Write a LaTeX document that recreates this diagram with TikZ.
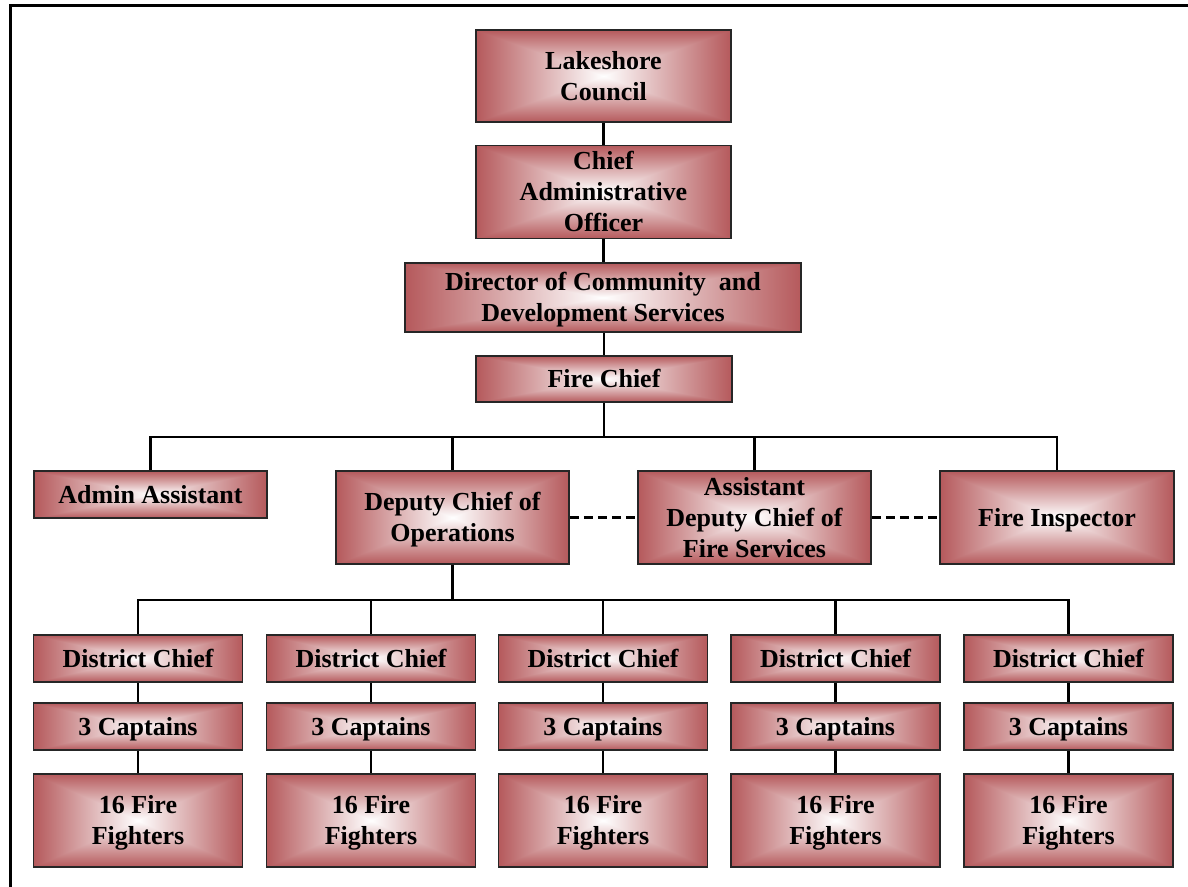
\documentclass[tikz,border=0pt]{standalone}
\usepackage{fontspec}
\setmainfont{Liberation Serif}
\pgfdeclarefunctionalshading{boxgrad}{\pgfpoint{-50bp}{-50bp}}{\pgfpoint{50bp}{50bp}}{}{
 abs exch abs 2 copy lt {exch} if pop 25 div dup 1 gt {pop 1} if
 dup 0.29 mul 1 exch sub exch dup 0.65 mul 1 exch sub exch 0.64 mul 1 exch sub
}
\newcommand{\boxtxt}[1]{\raisebox{-2.5pt}[\height][\depth]{\begin{tabular}{@{}c@{}}#1\end{tabular}}}
\tikzset{
  orgbox/.style={draw=black!85, line width=1.8pt, shading=boxgrad, inner sep=0pt,
    align=center, font=\bfseries\fontsize{26}{31}\selectfont, text=black},
  wire/.style={line width=2.2pt, draw=black},
  dashwire/.style={line width=2.6pt, draw=black, dash pattern=on 9pt off 5pt},
  frame/.style={line width=3pt, draw=black}
}
\begin{document}
\begin{tikzpicture}[x=1pt,y=-1pt]
\useasboundingbox (0,0) rectangle (1188,886);
\clip (0,0) rectangle (1188,886);
\draw[frame] (10,900) -- (10,5.5) -- (1200,5.5);

\coordinate (b1) at (604,437);
\coordinate (b2) at (452.5,600);

\node[orgbox, minimum width=255pt, minimum height=92pt] (lc) at (603.5,76) {\boxtxt{Lakeshore\\Council}};
\node[orgbox, minimum width=255pt, minimum height=92pt] (cao) at (603.5,192) {\boxtxt{Chief\\Administrative\\Officer}};
\node[orgbox, minimum width=396pt, minimum height=69pt] (dir) at (603,297.5) {\boxtxt{Director of Community\ \ and\\Development Services}};
\node[orgbox, minimum width=256pt, minimum height=46pt] (fc) at (604,379) {\boxtxt{Fire Chief}};

\node[orgbox, minimum width=233pt, minimum height=47pt] (aa) at (150.5,494.5) {\boxtxt{Admin Assistant}};
\node[orgbox, minimum width=233pt, minimum height=93pt] (dco) at (452.5,517.5) {\boxtxt{Deputy Chief of\\Operations}};
\node[orgbox, minimum width=233pt, minimum height=93pt] (adc) at (754.5,517.5) {\boxtxt{Assistant\\Deputy Chief of\\Fire Services}};
\node[orgbox, minimum width=234pt, minimum height=93pt] (fi) at (1057,517.5) {\boxtxt{Fire Inspector}};

\foreach \i/\x in {1/138,2/371,3/603,4/835.5,5/1068.5}{
  \node[orgbox, minimum width=209pt, minimum height=47pt] (d\i) at (\x,658.5) {\boxtxt{District Chief}};
  \node[orgbox, minimum width=209pt, minimum height=47pt] (c\i) at (\x,726.5) {\boxtxt{3 Captains}};
  \node[orgbox, minimum width=209pt, minimum height=93pt] (f\i) at (\x,820.5) {\boxtxt{16 Fire\\Fighters}};
  \draw[wire] (d\i.south) -- (c\i.north);
  \draw[wire] (c\i.south) -- (f\i.north);
}

\draw[wire] (lc.south) -- (cao.north);
\draw[wire] (cao.south) -- (cao.south |- dir.north);
\draw[wire] (dir.south -| fc.north) -- (fc.north);
\draw[wire] (fc.south) -- (fc.south |- b1);
\draw[wire] (aa.north) |- (fi.north |- b1) -- (fi.north);
\draw[wire] (dco.north) -- (dco.north |- b1);
\draw[wire] (adc.north) -- (adc.north |- b1);

\draw[wire] (dco.south) -- (b2);
\draw[wire] (d1.north) |- (d5.north |- b2) -- (d5.north);
\draw[wire] (d2.north) -- (d2.north |- b2);
\draw[wire] (d3.north) -- (d3.north |- b2);
\draw[wire] (d4.north) -- (d4.north |- b2);

\draw[dashwire] (dco.east) -- (adc.west);
\draw[dashwire] (adc.east) -- (fi.west);
\end{tikzpicture}
\end{document}
